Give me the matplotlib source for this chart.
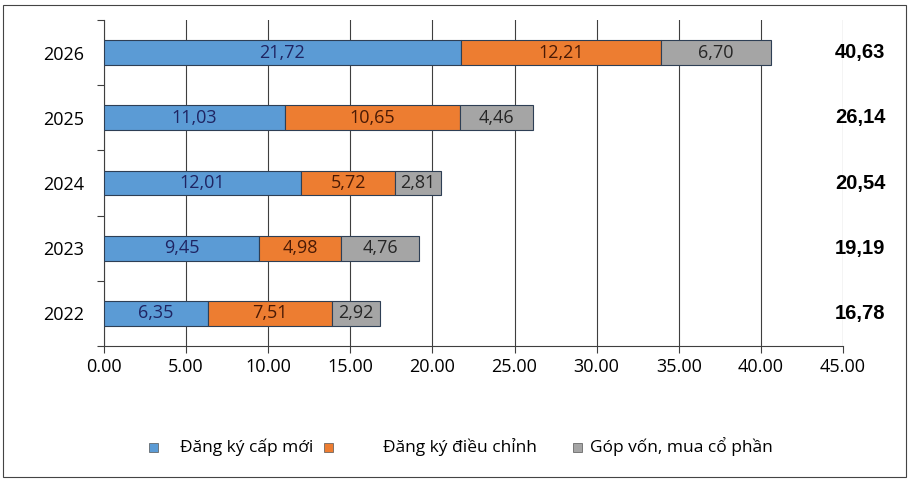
import matplotlib
matplotlib.use("Agg")
import matplotlib.pyplot as plt
from matplotlib.patches import Rectangle
import numpy as np

# ---- data ----
years = ["2022", "2023", "2024", "2025", "2026"]
dang_ky_moi = [6.35, 9.45, 12.01, 11.03, 21.72]
dang_ky_dieu_chinh = [7.51, 4.98, 5.72, 10.65, 12.21]
gop_von = [2.92, 4.76, 2.81, 4.46, 6.70]
series_names = ["Đăng ký cấp mới", "Đăng ký điều chỉnh", "Góp vốn, mua cổ phần"]

colors = ["#5B9BD5", "#ED7D31", "#A5A5A5"]
label_colors = ["#1F2462", "#4A1A05", "#262626"]
grid_c = "#3F3F3F"

plt.rcParams["font.family"] = ["Open Sans", "DejaVu Sans"]

fig = plt.figure(figsize=(9.13, 4.82), dpi=100)
ax = fig.add_axes([104 / 913, 1 - 346 / 482, 739 / 913, 326 / 482])

y = np.arange(len(years))
left = np.zeros(len(years))
for vals, c, lc in zip([dang_ky_moi, dang_ky_dieu_chinh, gop_von], colors, label_colors):
    bars = ax.barh(y, vals, left=left, height=0.38, color=c,
                   edgecolor="#2E3F55", linewidth=0.8, zorder=3)
    for b, v in zip(bars, vals):
        ax.text(b.get_x() + b.get_width() / 2, b.get_y() + b.get_height() / 2,
                f"{v:.2f}".replace(".", ","), ha="center", va="center",
                fontsize=13, color=lc, zorder=4)
    left = left + np.array(vals)

# tổng cộng bên phải
for yi, tot in zip(y, left):
    ax.text(44.5, yi, f"{tot:.2f}".replace(".", ","), ha="left", va="center",
            fontsize=14.5, fontweight="bold", family=["Liberation Sans", "DejaVu Sans"],
            color="black", clip_on=False, zorder=5)

ax.set_xlim(0, 45)
ax.set_ylim(-0.5, len(years) - 0.5)
ax.set_xticks(np.arange(0, 46, 5))
ax.set_xticklabels([f"{v:.2f}" for v in np.arange(0, 46, 5)], fontsize=13)
ax.xaxis.grid(True, color=grid_c, linewidth=0.8, zorder=0)

# ticks between categories, labels at centres
ax.set_yticks(np.arange(-0.5, len(years), 1))
ax.set_yticklabels([])
ax.set_yticks(y, minor=True)
ax.set_yticklabels(years, minor=True, fontsize=13)
ax.tick_params(axis="y", which="major", length=5, color=grid_c, width=0.8)
ax.tick_params(axis="y", which="minor", length=0, pad=14)
ax.tick_params(axis="x", length=5, color=grid_c, width=0.8, pad=4)

for s in ["top", "right"]:
    ax.spines[s].set_visible(False)
for s in ["left", "bottom"]:
    ax.spines[s].set_color(grid_c)
    ax.spines[s].set_linewidth(0.8)

# legend drawn by hand to match spacing
leg_y = 1 - 447 / 482
sq = 9
for xs, xt, c, name in zip([149, 324, 573], [180, 383, 590], colors, series_names):
    fig.patches.append(Rectangle((xs / 913, leg_y - sq / 2 / 482), sq / 913, sq / 482,
                                 transform=fig.transFigure, facecolor=c,
                                 edgecolor="#555555", linewidth=0.5))
    fig.text(xt / 913, leg_y, name, ha="left", va="center", fontsize=12.5)

# outer frame
fig.patches.append(Rectangle((3 / 913, 1 - 477 / 482), 903 / 913, 472 / 482,
                             transform=fig.transFigure, fill=False,
                             edgecolor="#444444", linewidth=0.8))

fig.savefig("out.png", dpi=100)
